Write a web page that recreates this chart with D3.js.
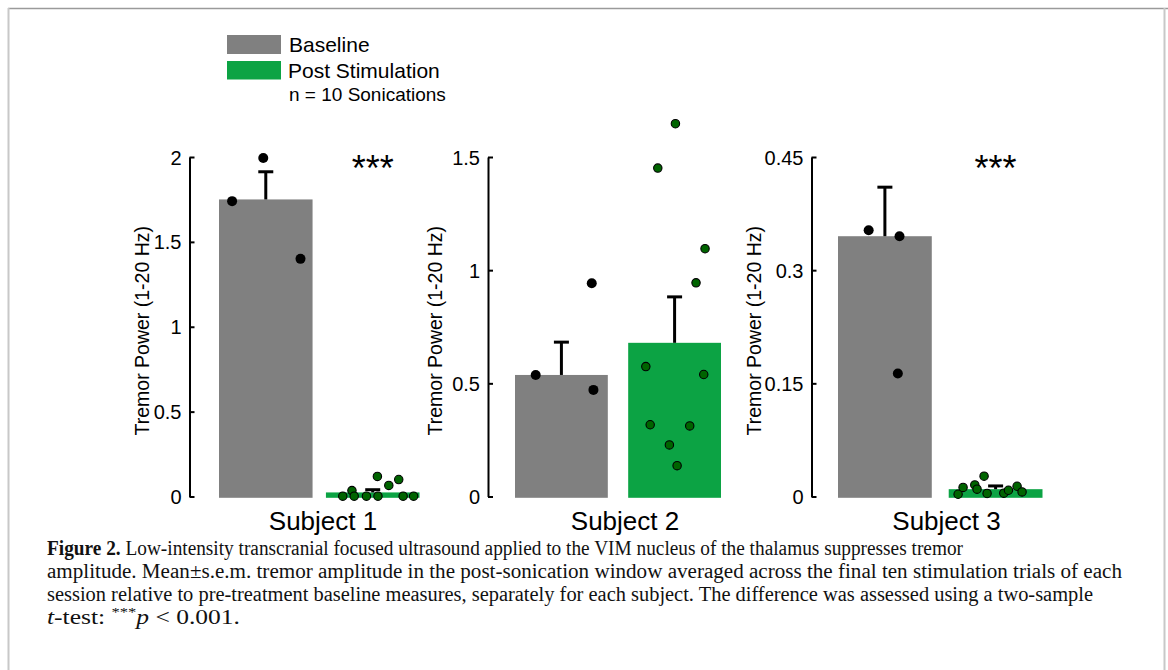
<!DOCTYPE html>
<html><head><meta charset="utf-8">
<script src="https://cdn.jsdelivr.net/npm/d3@7"></script>
<style>
html,body{margin:0;padding:0;background:#fff;}
svg{display:block;font-family:"Liberation Sans",Arial,Helvetica,sans-serif;}
</style>
</head><body>
<svg id="chart" width="1168" height="670"></svg>
<script>
// ---------------- data ----------------
const subjects = ["Subject 1", "Subject 2", "Subject 3"];
const groups = ["Baseline", "Post Stimulation"];
const legendNote = "n = 10 Sonications";
const yLabel = "Tremor Power (1-20 Hz)";
const tickValues = [[0, 0.5, 1, 1.5, 2], [0, 0.5, 1, 1.5], [0, 0.15, 0.3, 0.45]];
const tickLabels = [["0", "0.5", "1", "1.5", "2"], ["0", "0.5", "1", "1.5"], ["0", "0.15", "0.3", "0.45"]];
const baselineMean = [1.75, 0.537, 0.345];
const baselineSem = [0.163, 0.145, 0.065];
const postMean = [0.024, 0.679, 0.0097];
const postSem = [0.016, 0.203, 0.0043];
const significance = ["***", "", "***"];
const baselinePoints = [
  [1.74, 1.994, 1.40],
  [0.537, 0.471, 0.942],
  [0.353, 0.345, 0.163]
];
const postPoints = [
  [0.002, 0.035, 0.002, 0.002, 0.118, 0.002, 0.065, 0.10, 0.002, 0.002],
  [1.647, 1.451, 1.095, 0.944, 0.574, 0.539, 0.317, 0.312, 0.228, 0.136],
  [0.003, 0.012, 0.0154, 0.0097, 0.027, 0.004, 0.0044, 0.0083, 0.0136, 0.006]
];
// horizontal jitter of the points, as a fraction of the bar width
const baselineJitter = [
  [-0.36, -0.027, 0.371],
  [-0.277, 0.345, 0.327],
  [-0.173, 0.156, 0.138]
];
const postJitter = [
  [-0.32, -0.222, -0.198, -0.067, 0.05, 0.056, 0.172, 0.278, 0.325, 0.437],
  [0.009, -0.181, 0.328, 0.231, -0.31, 0.314, -0.263, 0.163, -0.056, 0.027],
  [-0.40, -0.347, -0.222, -0.198, -0.123, -0.091, 0.087, 0.137, 0.229, 0.282]
];
const captionLines = [
  [{t: "Figure 2.", w: "bold"}, {t: " Low-intensity transcranial focused ultrasound applied to the VIM nucleus of the thalamus suppresses tremor"}],
  [{t: "amplitude. Mean\u00b1s.e.m. tremor amplitude in the post-sonication window averaged across the final ten stimulation trials of each"}],
  [{t: "session relative to pre-treatment baseline measures, separately for each subject. The difference was assessed using a two-sample"}],
  [{t: "t", s: "italic"}, {t: "-test: "}, {t: "***", sup: true}, {t: "p", s: "italic"}, {t: " < 0.001."}]
];

// ---------------- layout ----------------
const layout = [
  {axisX: 189.5, x0: 219, x1: 419.5, pad: 0.125, yLabelX: 142, labelX: 323},
  {axisX: 488, x0: 515, x1: 721, pad: 0.18, yLabelX: 435, labelX: 625},
  {axisX: 811.5, x0: 838, x1: 1042.5, pad: 0.153, yLabelX: 753.5, labelX: 946.5}
];
const yBottom = 496.5, yTop = 157;
const colors = {base: "#808080", post: "#0ca344", postDot: "#006400"};

const svg = d3.select("#chart");

// frame
svg.append("line").attr("x1", 8).attr("x2", 1168).attr("y1", 8.5).attr("y2", 8.5)
  .attr("stroke", "#9a9a9a").attr("stroke-width", 1.5);
svg.append("line").attr("x1", 8.5).attr("x2", 8.5).attr("y1", 8).attr("y2", 670)
  .attr("stroke", "#c8c8c8").attr("stroke-width", 2);
svg.append("line").attr("x1", 1164.5).attr("x2", 1164.5).attr("y1", 8).attr("y2", 670)
  .attr("stroke", "#c8c8c8").attr("stroke-width", 2);

// legend
const leg = svg.append("g");
leg.append("rect").attr("x", 227).attr("y", 35).attr("width", 54).attr("height", 19).attr("fill", colors.base);
leg.append("rect").attr("x", 227).attr("y", 61).attr("width", 54).attr("height", 18.5).attr("fill", colors.post);
leg.append("text").attr("x", 289).attr("y", 52).attr("font-size", 21).text(groups[0]);
leg.append("text").attr("x", 288).attr("y", 78).attr("font-size", 21).text(groups[1]);
leg.append("text").attr("x", 289).attr("y", 101).attr("font-size", 19).text(legendNote);

subjects.forEach((subj, i) => {
  const L = layout[i];
  const ticks = tickValues[i];
  const y = d3.scaleLinear().domain([0, ticks[ticks.length - 1]]).range([yBottom, yTop]);
  const x = d3.scaleBand().domain(groups).range([L.x0, L.x1]).paddingInner(L.pad).paddingOuter(0);
  const bw = x.bandwidth();
  const g = svg.append("g");

  // bars
  const means = [baselineMean[i], postMean[i]];
  const sems = [baselineSem[i], postSem[i]];
  const fills = [colors.base, colors.post];
  g.selectAll("rect.bar").data(groups).join("rect")
    .attr("class", "bar")
    .attr("x", d => x(d)).attr("width", bw)
    .attr("y", (d, k) => y(means[k]))
    .attr("height", (d, k) => y(0) + 1.3 - y(means[k]))
    .attr("fill", (d, k) => fills[k]);

  // error bars (upper)
  groups.forEach((grp, k) => {
    const cx = x(grp) + bw / 2;
    const top = y(means[k] + sems[k]);
    g.append("line").attr("x1", cx).attr("x2", cx).attr("y1", y(means[k])).attr("y2", top)
      .attr("stroke", "#000").attr("stroke-width", 3);
    g.append("line").attr("x1", cx - 7.5).attr("x2", cx + 7.5).attr("y1", top).attr("y2", top)
      .attr("stroke", "#000").attr("stroke-width", 3);
  });

  // points
  g.selectAll("circle.base").data(baselinePoints[i]).join("circle")
    .attr("class", "base")
    .attr("cx", (d, k) => x(groups[0]) + bw / 2 + baselineJitter[i][k] * bw)
    .attr("cy", d => y(d)).attr("r", 5).attr("fill", "#000");
  g.selectAll("circle.post").data(postPoints[i]).join("circle")
    .attr("class", "post")
    .attr("cx", (d, k) => x(groups[1]) + bw / 2 + postJitter[i][k] * bw)
    .attr("cy", d => y(d)).attr("r", 4.2).attr("fill", colors.postDot)
    .attr("stroke", "#000").attr("stroke-width", 1.1);

  // axis
  const axis = d3.axisLeft(y).tickValues(ticks)
    .tickFormat((d, k) => tickLabels[i][k])
    .tickSizeInner(-5).tickSizeOuter(0).tickPadding(8);
  const ag = svg.append("g").attr("transform", `translate(${L.axisX},0)`).call(axis);
  ag.select(".domain").attr("stroke", "#000").attr("stroke-width", 2);
  ag.selectAll(".tick line").attr("stroke", "#000").attr("stroke-width", 2);
  ag.selectAll(".tick text").attr("font-size", 20).attr("fill", "#000")
    .attr("font-family", '"Liberation Sans",Arial,sans-serif').attr("dy", "0.35em");

  // y label
  svg.append("text")
    .attr("transform", `translate(${L.yLabelX},${(yBottom + yTop) / 2 + 4}) rotate(-90)`)
    .attr("text-anchor", "middle").attr("dominant-baseline", "central")
    .attr("font-size", 19.5).text(yLabel);

  // x label
  svg.append("text").attr("x", L.labelX).attr("y", 530).attr("text-anchor", "middle")
    .attr("font-size", 26).text(subj);

  // significance
  if (significance[i]) {
    svg.append("text").attr("x", x(groups[1]) + bw / 2).attr("y", 181)
      .attr("text-anchor", "middle").attr("font-size", 36).text(significance[i]);
  }
});

// caption
const capWidths = [916, 1075, 1046, 193];
const capY = [555, 578, 601, 624];
captionLines.forEach((line, li) => {
  const t = svg.append("text").attr("x", 47).attr("y", capY[li])
    .attr("font-family", '"Liberation Serif","DejaVu Serif",serif')
    .attr("font-size", 20).attr("fill", "#111")
    .attr("textLength", capWidths[li]).attr("lengthAdjust", "spacingAndGlyphs");
  let raised = false;
  line.forEach(seg => {
    const ts = t.append("tspan").text(seg.t);
    if (seg.w) ts.attr("font-weight", seg.w);
    if (seg.s) ts.attr("font-style", seg.s);
    if (seg.sup) { ts.attr("font-size", 13).attr("dy", -8); raised = true; }
    else if (raised) { ts.attr("dy", 8); raised = false; }
  });
});
</script>
</body></html>
